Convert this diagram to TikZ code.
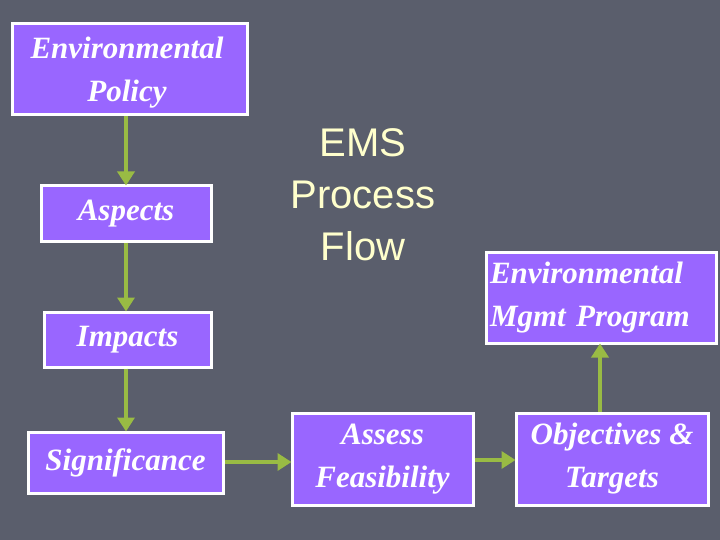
\documentclass[tikz,border=0pt]{standalone}
\usepackage{fontspec}
\setmainfont{Liberation Serif}
\newfontfamily\emsfont{Liberation Sans}
\usetikzlibrary{arrows.meta}
\definecolor{bgcol}{RGB}{90,94,108}
\definecolor{boxcol}{RGB}{153,102,255}
\definecolor{arrcol}{RGB}{153,187,68}
\definecolor{titlecol}{RGB}{255,255,204}
\tikzset{
  boxtext/.style={text=white, font=\fontsize{31}{43}\selectfont\bfseries\itshape, align=center},
  box/.style={boxtext, draw=white, line width=3pt, fill=boxcol, inner sep=0pt},
  arr/.style={draw=arrcol, line width=3.5pt, -{Triangle[length=14pt,width=17pt]}, shorten >=-1pt}
}
\begin{document}
\begin{tikzpicture}[x=1pt,y=-1pt]
\fill[bgcol] (0,0) rectangle (720,540);
\useasboundingbox (0,0) rectangle (720,540);
\node[box, minimum width=235pt, minimum height=91pt] (policy) at (129.5,69.5) {};
\node[boxtext] (policytext) at (127,73) {Environmental\\Policy};
\node[box, minimum width=170pt, minimum height=55pt] (aspects) at (126,213.5) {Aspects};
\node[box, minimum width=167pt, minimum height=55pt] (impacts) at (127.5,339.5) {Impacts};
\node[box, minimum width=195pt, minimum height=61pt] (sig) at (125.5,462.5) {Significance};
\node[box, minimum width=181pt, minimum height=92pt] (assess) at (382.5,459) {Assess\\Feasibility};
\node[box, minimum width=192pt, minimum height=92pt] (obj) at (612,459) {Objectives \&\\Targets};
\node[box, minimum width=230pt, minimum height=91pt, align=left, text width=222pt] (emp) at (601,297.5) {Environmental\\Mgmt Program};
\node[text=titlecol, font=\emsfont\fontsize{40}{52}\selectfont, align=center] (title) at (363,195) {EMS\\Process\\Flow};
\draw[arr] (policy.south -| 126,0) -- (aspects.north -| 126,0);
\draw[arr] (aspects.south -| 126,0) -- (impacts.north -| 126,0);
\draw[arr] (impacts.south -| 126,0) -- (sig.north -| 126,0);
\draw[arr] (sig.east |- 0,462) -- (assess.west |- 0,462);
\draw[arr] (assess.east |- 0,460) -- (obj.west |- 0,460);
\draw[arr] (obj.north -| 600,0) -- (emp.south -| 600,0);
\end{tikzpicture}
\end{document}
